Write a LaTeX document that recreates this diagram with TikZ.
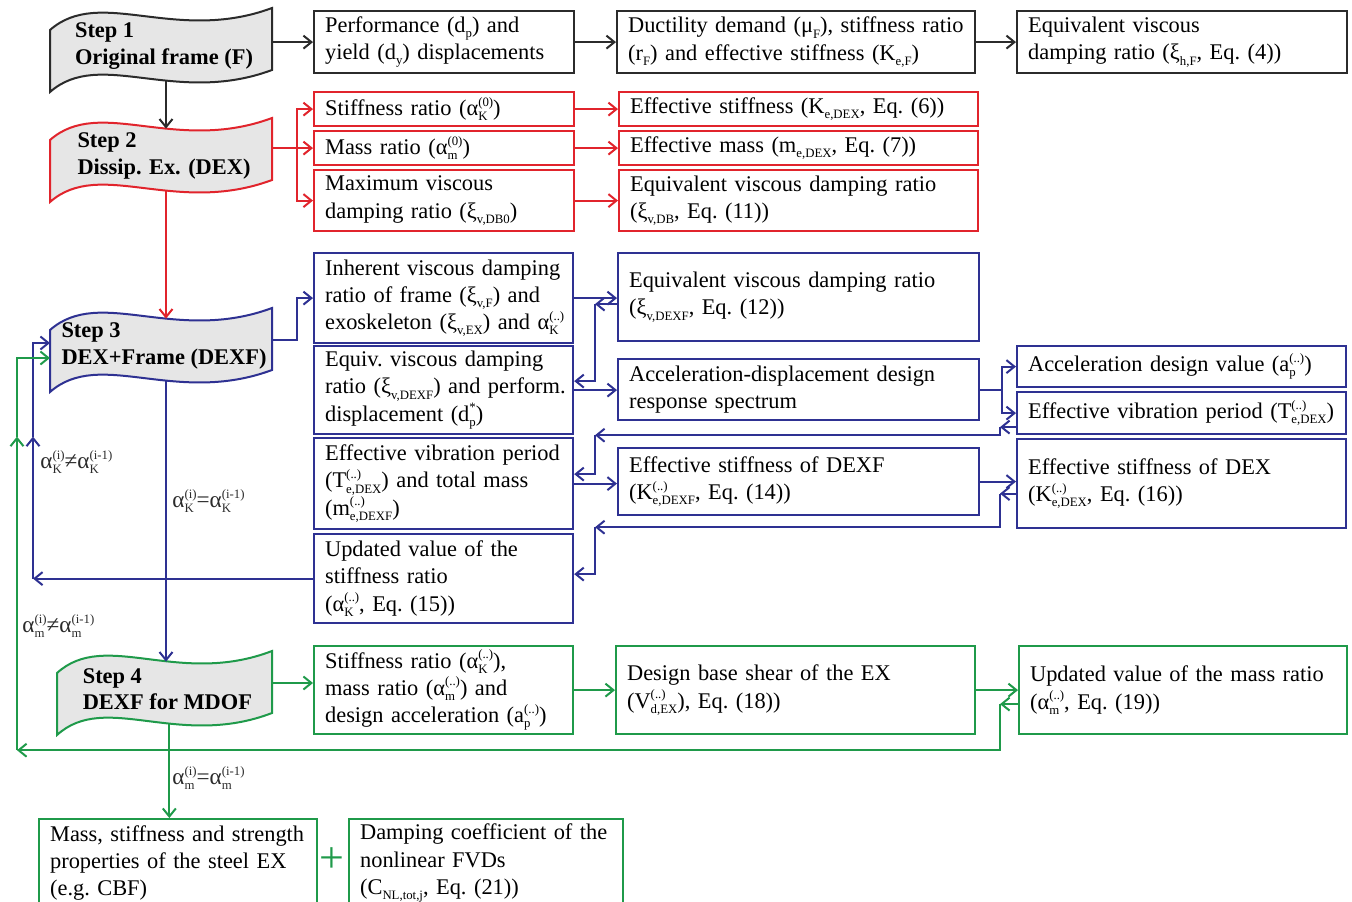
\documentclass[tikz,border=0pt]{standalone}
\usepackage{fontspec}
\setmainfont{Liberation Serif}
\usetikzlibrary{arrows.meta,calc}
\definecolor{frameblk}{HTML}{2B2B2B}
\definecolor{dexred}{HTML}{E1242C}
\definecolor{dexfblue}{HTML}{2E3192}
\definecolor{mdofgreen}{HTML}{1F9A4A}
\definecolor{stepfill}{HTML}{E6E6E6}
% stacked superscript / subscript in text
\newcommand{\ix}[2]{{\fontsize{6.4}{6.4}\selectfont
  \setbox0=\hbox{#1}\setbox2=\hbox{#2}%
  \dimen0=\ifdim\wd0>\wd2 \wd0\else\wd2\fi
  \rlap{\raise4.7pt\box0}\rlap{\lower2.6pt\box2}\kern\dimen0}}
\tikzset{
  cell/.style={draw, line width=1.1pt, anchor=north west,
               inner xsep=5.5pt, inner ysep=0pt, font={\fontsize{11.2}{13.6}\selectfont},
               execute at begin node={\parindent=0pt\rightskip=0pt plus 2em minus 30pt%
                 \parfillskip=0pt plus 1fil\hyphenpenalty=10000\frenchspacing}},
  steptext/.style={align=left, inner sep=0pt, text=black,
               font={\fontsize{11.2}{13.2}\selectfont\bfseries}},
  flow/.style={line width=1pt, -{Straight Barb[length=4pt,width=6.5pt]}},
  cond/.style={anchor=west, inner sep=0pt, text=frameblk,
               font={\fontsize{11.6}{13.6}\selectfont}},
}
\begin{document}
\begin{tikzpicture}[x=0.5pt, y=-0.5pt]
  \useasboundingbox (0,0) rectangle (1352,901);
  % wave-shaped step banners
  \foreach \nm/\x/\y/\w/\col/\txt in {
      s1/50/8/222/frameblk/{Step 1\\Original frame (F)},
      s2/50/118/222/dexred/{Step 2\\Dissip. Ex. (DEX)},
      s3/50/308/222/dexfblue/{Step 3\\DEX+Frame (DEXF)},
      s4/57/651/215/mdofgreen/{Step 4\\DEXF for MDOF}}{
    \begin{scope}[shift={(\x,\y)}, xscale=\w/222]
      \draw[\col, fill=stepfill, line width=1pt]
        (0,22) .. controls (50,-22) and (125,36) .. (222,0) -- (222,62)
        .. controls (125,98) and (50,40) .. (0,84) -- cycle;
      \node[steptext] (\nm) at (114,38) {\txt};
      \coordinate (\nm-top) at (116,10.6);
      \coordinate (\nm-bot) at (116,72.6);
      \coordinate (\nm-e) at (222,32);
      \coordinate (\nm-wa) at (0,35);
      \coordinate (\nm-wb) at (0,50);
    \end{scope}}

  % step 1: original frame
  \node[cell, draw=frameblk, text width=119pt, minimum height=31pt] (a1) at (313,10)
    {Performance (d\ix{}{p}) and\\yield (d\ix{}{y}) displacements};
  \node[cell, draw=frameblk, text width=168pt, minimum height=31pt] (a2) at (616,10)
    {Ductility demand (μ\ix{}{F}), stiffness ratio\\(r\ix{}{F}) and effective stiffness (K\ix{}{e,F})};
  \node[cell, draw=frameblk, text width=154pt, minimum height=31pt] (a3) at (1016,10)
    {Equivalent viscous\\damping ratio (ξ\ix{}{h,F}, Eq. (4))};
  % step 2: dissipative exoskeleton
  \node[cell, draw=dexred, text width=119pt, minimum height=17pt] (b1) at (313,91)
    {Stiffness ratio (α\ix{(0)}{K})};
  \node[cell, draw=dexred, text width=119pt, minimum height=17pt] (b2) at (313,130)
    {Mass ratio (α\ix{(0)}{m})};
  \node[cell, draw=dexred, text width=119pt, minimum height=30.5pt] (b3) at (313,169)
    {Maximum viscous\\damping ratio (ξ\ix{}{v,DB0})};
  \node[cell, draw=dexred, text width=168.5pt, minimum height=17pt] (c1) at (618,91)
    {Effective stiffness (K\ix{}{e,DEX}, Eq. (6))};
  \node[cell, draw=dexred, text width=168.5pt, minimum height=17pt] (c2) at (618,130)
    {Effective mass (m\ix{}{e,DEX}, Eq. (7))};
  \node[cell, draw=dexred, text width=168.5pt, minimum height=30.5pt] (c3) at (618,169)
    {Equivalent viscous damping ratio\\(ξ\ix{}{v,DB}, Eq. (11))};
  % step 3: DEX + frame
  \node[cell, draw=dexfblue, text width=118.5pt, minimum height=45pt] (d1) at (313,252)
    {Inherent viscous damping\\ratio of frame (ξ\ix{}{v,F}) and\\exoskeleton (ξ\ix{}{v,EX}) and α\ix{(..)}{K}};
  \node[cell, draw=dexfblue, text width=118.5pt, minimum height=44pt] (d2) at (313,345)
    {Equiv. viscous damping\\ratio (ξ\ix{}{v,DEXF}) and perform.\\displacement (d\ix{*}{p})};
  \node[cell, draw=dexfblue, text width=118.5pt, minimum height=45.5pt] (d3) at (313,437)
    {Effective vibration period\\(T\ix{(..)}{e,DEX}) and total mass\\(m\ix{(..)}{e,DEXF})};
  \node[cell, draw=dexfblue, text width=118.5pt, minimum height=44.5pt] (d4) at (313,533)
    {Updated value of the\\stiffness ratio\\(α\ix{(..)}{K}, Eq. (15))};
  \node[cell, draw=dexfblue, text width=169.5pt, minimum height=44pt] (e1) at (617,252)
    {Equivalent viscous damping ratio\\(ξ\ix{}{v,DEXF}, Eq. (12))};
  \node[cell, draw=dexfblue, text width=169.5pt, minimum height=30.5pt] (e2) at (617,358)
    {Acceleration-displacement design\\response spectrum};
  \node[cell, draw=dexfblue, text width=169.5pt, minimum height=33.5pt] (e3) at (617,447)
    {Effective stiffness of DEXF\\(K\ix{(..)}{e,DEXF}, Eq. (14))};
  \node[cell, draw=dexfblue, text width=153.5pt, minimum height=20.5pt] (f1) at (1016,345)
    {Acceleration design value (a\ix{(..)}{p})};
  \node[cell, draw=dexfblue, text width=153.5pt, minimum height=21pt] (f2) at (1016,391)
    {Effective vibration period (T\ix{(..)}{e,DEX})};
  \node[cell, draw=dexfblue, text width=153.5pt, minimum height=44.5pt] (f3) at (1016,438)
    {Effective stiffness of DEX\\(K\ix{(..)}{e,DEX}, Eq. (16))};
  % step 4: MDOF
  \node[cell, draw=mdofgreen, text width=118.5pt, minimum height=44pt] (g1) at (313,645)
    {Stiffness ratio (α\ix{(..)}{K}),\\mass ratio (α\ix{(..)}{m}) and\\design acceleration (a\ix{(..)}{p})};
  \node[cell, draw=mdofgreen, text width=168.5pt, minimum height=44pt] (g2) at (615,645)
    {Design base shear of the EX\\(V\ix{(..)}{d,EX}), Eq. (18))};
  \node[cell, draw=mdofgreen, text width=153pt, minimum height=44pt] (g3) at (1018,645)
    {Updated value of the mass ratio\\(α\ix{(..)}{m}, Eq. (19))};
  \node[cell, draw=mdofgreen, text width=128pt, minimum height=44pt] (h1) at (38,818)
    {Mass, stiffness and strength\\properties of the steel EX\\(e.g. CBF)};
  \node[cell, draw=mdofgreen, text width=126pt, minimum height=44pt] (h2) at (348,818)
    {Damping coefficient of the\\nonlinear FVDs\\(C\ix{}{NL,tot,j}, Eq. (21))};
  \node[text=mdofgreen, inner sep=0pt, font={\fontsize{22}{22}\selectfont}] (plus) at (332,860) {+};

  % conditions on the loops
  \node[cond] (kne) at (40,462) {α\ix{(i)}{K}≠α\ix{(i-1)}{K}};
  \node[cond] (keq) at (172,501) {α\ix{(i)}{K}=α\ix{(i-1)}{K}};
  \node[cond] (mne) at (22,626) {α\ix{(i)}{m}≠α\ix{(i-1)}{m}};
  \node[cond] (meq) at (172,778) {α\ix{(i)}{m}=α\ix{(i-1)}{m}};

  % black connectors
  \draw[flow, frameblk] (s1-e |- a1.west) -- (a1.west);
  \draw[flow, frameblk] (a1.east) -- (a1.east -| a2.west);
  \draw[flow, frameblk] (a2.east) -- (a2.east -| a3.west);
  \draw[flow, frameblk] (s1-bot) -- (s2-top);
  % red connectors
  \coordinate (rfork) at ($(s2-e |- b2.west)+(25,0)$);
  \draw[flow, dexred] (s2-e |- b2.west) -- (b2.west);
  \draw[flow, dexred] (rfork) |- (b1.west);
  \draw[flow, dexred] (rfork) |- (b3.west);
  \draw[flow, dexred] (b1.east) -- (b1.east -| c1.west);
  \draw[flow, dexred] (b2.east) -- (b2.east -| c2.west);
  \draw[flow, dexred] (b3.east) -- (b3.east -| c3.west);
  \draw[flow, dexred] (s2-bot) -- (s3-top);
  % blue connectors
  \draw[flow, dexfblue] (s3-e) -- ++(25,0) |- (d1.west);
  \draw[flow, dexfblue] (d1.east) -- (d1.east -| e1.west);
  \draw[flow, dexfblue] ($(e1.west)+(0,7)$) -- ++(-22,0) coordinate (e1r);
  \draw[flow, dexfblue] (e1r) |- ($(d2.east)+(0,-9)$);
  \draw[flow, dexfblue] (d2.east) -- (d2.east -| e2.west);
  \coordinate (efork) at ($(e2.east)+(22,0)$);
  \draw[dexfblue, line width=1pt] (e2.east) -- (efork);
  \draw[flow, dexfblue] (efork) |- (f1.west);
  \draw[flow, dexfblue] (efork) |- (f2.west);
  \draw[flow, dexfblue] ($(f2.west)+(0,14)$) -- ++(-16,0) coordinate (f2r);
  \coordinate (f2l) at (e1r |- f2.south);
  \draw[flow, dexfblue] (f2r) |- (f2l);
  \draw[flow, dexfblue] (f2l) |- ($(d3.east)+(0,-9.5)$);
  \draw[flow, dexfblue] (d3.east) -- (d3.east -| e3.west);
  \draw[flow, dexfblue] (e3.east) -- (e3.east -| f3.west);
  \draw[flow, dexfblue] ($(f3.west)+(0,10)$) -- ++(-16,0) coordinate (f3r);
  \coordinate (f3l) at ($(e1r |- f3.south)+(0,-2)$);
  \draw[flow, dexfblue] (f3r) |- (f3l);
  \draw[flow, dexfblue] (f3l) |- ($(d4.east)+(0,-4.5)$);
  \coordinate (kcorner) at ($(d4.west -| s3-wa)+(-17,0)$);
  \coordinate (kmid) at ($(kcorner)+(0,-142)$);
  \draw[flow, dexfblue] (d4.west) -- (kcorner);
  \draw[flow, dexfblue] (kcorner) -- (kmid);
  \draw[flow, dexfblue] (kmid) |- (s3-wa);
  \draw[flow, dexfblue] (s3-bot) -- (s3-bot |- s4-top);
  % green connectors
  \draw[flow, mdofgreen] (s4-e) -- (s4-e -| g1.west);
  \draw[flow, mdofgreen] (g1.east) -- (g1.east -| g2.west);
  \draw[flow, mdofgreen] (g2.east) -- (g2.east -| g3.west);
  \draw[flow, mdofgreen] ($(g3.west)+(0,14)$) -- ++(-18,0) coordinate (g3r);
  \coordinate (mcorner) at ($(s3-wb |- g3.south)+(-33,15)$);
  \coordinate (mmid) at (mcorner |- kmid);
  \draw[flow, mdofgreen] (g3r) |- (mcorner);
  \draw[flow, mdofgreen] (mcorner) -- (mmid);
  \draw[flow, mdofgreen] (mmid) |- (s3-wb);
  \draw[flow, mdofgreen] (s4-bot) -- (s4-bot |- h1.north);
\end{tikzpicture}
\end{document}
